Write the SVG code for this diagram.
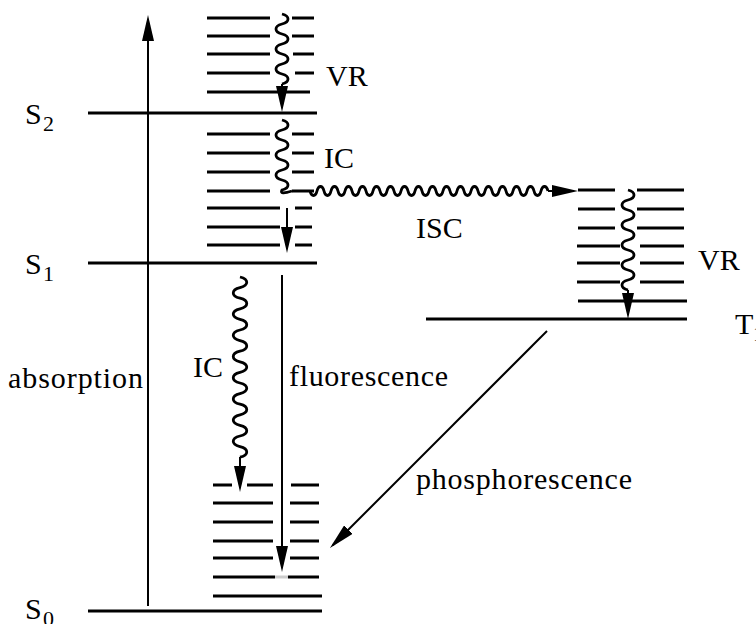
<svg xmlns="http://www.w3.org/2000/svg" width="756" height="624" viewBox="0 0 756 624" font-family="'Liberation Serif', 'DejaVu Serif', serif">
<style>
.lv{stroke:#000;stroke-width:3;fill:none}
.ar{stroke:#000;stroke-width:2;fill:none;marker-end:url(#ah)}
.wv{stroke:#000;stroke-width:2.8;fill:none}
.t{font-size:30px;fill:#000}
.sub{font-size:22px}
</style>
<defs>
<marker id="ah" markerUnits="userSpaceOnUse" markerWidth="26" markerHeight="12" refX="22" refY="6" orient="auto">
<path d="M0,0 L26,6 L0,12 z" fill="#000"/>
</marker>
</defs>
<rect width="756" height="624" fill="#fff"/>

<g id="S2-stack">
<path class="lv" d="M207,18H270M292,18H314M207,36H270M292,36H314M207,54H270M293,54H314M207,73H270M295,73H314M207,92H310"/>
<path class="lv" d="M88,113H317"/>
<text class="t" x="25" y="124" style="font-family:'Liberation Serif',serif">S</text><text class="t sub" x="43" y="131" style="font-family:'Liberation Serif',serif">2</text>
</g>

<g id="S1-stack">
<path class="lv" d="M207,134H270M292,134H314M207,153H270M292,153H314M207,172H270M292,172H314M207,191H270M292,191H314M207,208H280M295,208H312M207,227H280M295,227H312M207,245H280M295,245H312"/>
<path class="lv" d="M88,263H317"/>
<text class="t" x="25" y="274" font-family="Liberation Serif">S</text><text class="t sub" x="43" y="281" font-family="Liberation Serif">1</text>
</g>

<g id="T1-stack">
<path class="lv" d="M578,190H615M637,190H684M578,209H615M637,209H684M578,228H615M637,228H684M577,246H620M640,246H684M577,263H620M640,263H684M577,282H620M640,282H684M578,301H687"/>
<path class="lv" d="M426,319H687"/>
<text class="t" x="735" y="334">T</text><text class="t sub" x="753" y="341">1</text>
</g>

<g id="S0-stack">
<path class="lv" d="M213,485H232M247,485H273M291,485H319M213,503H273M290,503H319M213,522H273M290,522H319M213,541H273M290,541H319M213,558H273M290,558H319M213,577H275M288,577H319M213,596H322"/>
<path d="M275,577H288" stroke="#ccc" stroke-width="3"/>
<path class="lv" d="M88,611H322"/>
<text class="t" x="25" y="619">S</text><text class="t sub" x="43" y="626">0</text>
</g>

<g id="connectors">
<line class="ar" x1="148" y1="606" x2="148" y2="19"/>
<path class="wv" d="M282,14c8,2 8,8 0,10s-8,8 0,10s8,8 0,10s-8,8 0,10s8,8 0,10s-8,8 0,10s8,8 0,10"/>
<line class="ar" x1="282" y1="84" x2="282" y2="108"/>
<path class="wv" d="M282,120c8,2 8,8 0,10s-8,8 0,10s8,8 0,10s-8,8 0,10s8,8 0,10s-8,8 0,10s8,8 0,10q-3,5 10,1"/>
<path class="wv" d="M310,191c1.4,6 5.6,6 7,0s5.6,-6 7,0s5.6,6 7,0s5.6,-6 7,0s5.6,6 7,0s5.6,-6 7,0s5.6,6 7,0s5.6,-6 7,0s5.6,6 7,0s5.6,-6 7,0s5.6,6 7,0s5.6,-6 7,0s5.6,6 7,0s5.6,-6 7,0s5.6,6 7,0s5.6,-6 7,0s5.6,6 7,0s5.6,-6 7,0s5.6,6 7,0s5.6,-6 7,0s5.6,6 7,0s5.6,-6 7,0s5.6,6 7,0s5.6,-6 7,0s5.6,6 7,0s5.6,-6 7,0s5.6,6 7,0s5.6,-6 7,0s5.6,6 7,0s5.6,-6 7,0s5.6,6 7,0s5.6,-6 7,0s5.6,6 7,0s5.6,-6 7,0"/>
<line class="ar" x1="548" y1="191" x2="574" y2="191"/>
<line class="ar" x1="287" y1="208" x2="287" y2="249"/>
<path class="wv" d="M628,190c8,2 8,8 0,10s-8,8 0,10s8,8 0,10s-8,8 0,10s8,8 0,10s-8,8 0,10s8,8 0,10s-8,8 0,10s8,8 0,10s-8,8 0,10"/>
<line class="ar" x1="628" y1="290" x2="628" y2="315"/>
<path class="wv" d="M240,277c9,2.12 9,8.48 0,10.6s-9,8.48 0,10.6s9,8.48 0,10.6s-9,8.48 0,10.6s9,8.48 0,10.6s-9,8.48 0,10.6s9,8.48 0,10.6s-9,8.48 0,10.6s9,8.48 0,10.6s-9,8.48 0,10.6s9,8.48 0,10.6s-9,8.48 0,10.6s9,8.48 0,10.6s-9,8.48 0,10.6s9,8.48 0,10.6s-9,8.48 0,10.6s9,8.48 0,10.6"/>
<line class="ar" x1="240" y1="457" x2="240" y2="488"/>
<line class="ar" x1="282" y1="275" x2="282" y2="568"/>
<line class="ar" x1="547" y1="331" x2="332.8" y2="545.2"/>
</g>

<g id="labels">
<text class="t" x="326" y="86">VR</text>
<text class="t" x="324" y="168">IC</text>
<text class="t" x="416" y="238">ISC</text>
<text class="t" x="698" y="270">VR</text>
<text class="t" x="193" y="377">IC</text>
<text class="t" x="289" y="386" textLength="159">fluorescence</text>
<text class="t" x="8" y="388" textLength="135">absorption</text>
<text class="t" x="416" y="489" textLength="216">phosphorescence</text>
</g>
</svg>
